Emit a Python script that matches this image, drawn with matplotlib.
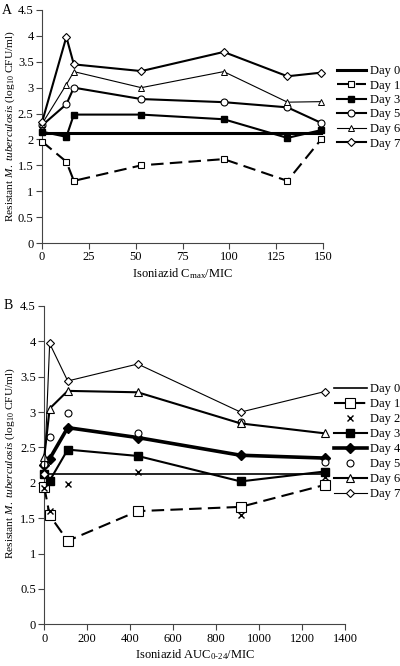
import matplotlib
matplotlib.use("Agg")
import matplotlib.pyplot as plt
from matplotlib.ticker import FuncFormatter

plt.rcParams['font.family'] = ['Liberation Serif', 'DejaVu Serif']
plt.rcParams['mathtext.fontset'] = 'custom'
plt.rcParams['mathtext.rm'] = 'Liberation Serif'
plt.rcParams['mathtext.it'] = 'Liberation Serif:italic'

# ---------------- Panel A data ----------------
a_x = [0, 13, 17, 53, 97, 131, 149]
a_day0 = [2.12, 2.12, 2.12, 2.12, 2.12, 2.12, 2.12]
a_day1 = [1.96, 1.57, 1.20, 1.50, 1.62, 1.20, 2.00]
a_day3 = [2.15, 2.05, 2.48, 2.48, 2.39, 2.03, 2.18]
a_day5 = [2.27, 2.68, 3.00, 2.78, 2.72, 2.62, 2.32]
a_day6 = [2.30, 3.06, 3.31, 3.00, 3.31, 2.72, 2.73]
a_day7 = [2.33, 3.98, 3.45, 3.32, 3.69, 3.22, 3.29]

# ---------------- Panel B data ----------------
b_x = [0, 25, 109, 435, 914, 1305]
b_day0 = [2.12, 2.12, 2.12, 2.12, 2.12, 2.12]
b_day1 = [1.94, 1.54, 1.18, 1.60, 1.66, 1.97]
b_day2 = [1.93, 1.60, 1.99, 2.15, 1.54, 2.08]
b_day3 = [2.13, 2.03, 2.47, 2.38, 2.02, 2.16]
b_day4 = [2.25, 2.34, 2.78, 2.64, 2.39, 2.35]
b_day5 = [2.27, 2.65, 2.99, 2.70, 2.86, 2.30]
b_day6 = [2.37, 3.05, 3.30, 3.28, 2.84, 2.70]
b_day7 = [2.13, 3.97, 3.44, 3.68, 3.00, 3.29]

ylabel = r'Resistant $\it{M.\ tuberculosis}$ (log$_{10}$ CFU/ml)'

W, H = 400, 666
FS = 9
YFS = 8.2
fig = plt.figure(figsize=(4, 6.66), dpi=100)

def px_axes(l, r, t, b):
    return fig.add_axes([l / W, 1 - b / H, (r - l) / W, (b - t) / H])

def style(ax):
    for s in ['top', 'right']:
        ax.spines[s].set_visible(False)
    for s in ['left', 'bottom']:
        ax.spines[s].set_color('#444444')
        ax.spines[s].set_linewidth(0.8)
    ax.tick_params(direction='out', length=4, width=0.8, color='#444444',
                   labelsize=FS, pad=2)
    ax.yaxis.set_major_formatter(FuncFormatter(lambda v, p: '%g' % v))

k = 'k'
ms = dict(clip_on=False, zorder=3)

# ---------------- Panel A ----------------
axA = px_axes(42, 323, 10, 243)
axA.plot(a_x, a_day0, '-', color=k, lw=2.2, label='Day 0', clip_on=False)
axA.plot(a_x, a_day1, '--', color=k, lw=1.5, marker='s', ms=5, mfc='white', mec=k,
         mew=0.8, dashes=(6, 3), label='Day 1', **ms)
axA.plot(a_x, a_day3, '-', color=k, lw=1.5, marker='s', ms=4.5, mfc=k, mec=k, label='Day 3', **ms)
axA.plot(a_x, a_day5, '-', color=k, lw=1.5, marker='o', ms=5, mfc='white', mec=k,
         mew=0.8, label='Day 5', **ms)
axA.plot(a_x, a_day6, '-', color=k, lw=0.8, marker='^', ms=4, mfc='white', mec=k,
         mew=0.7, label='Day 6', **ms)
axA.plot(a_x, a_day7, '-', color=k, lw=1.5, marker='D', ms=4.2, mfc='white', mec=k,
         mew=0.8, label='Day 7', **ms)
axA.set_xlim(0, 150)
axA.set_ylim(0, 4.5)
axA.set_xticks([0, 25, 50, 75, 100, 125, 150])
axA.set_yticks([0, 0.5, 1, 1.5, 2, 2.5, 3, 3.5, 4, 4.5])
style(axA)
axA.set_xlabel(r'Isoniazid C$_{\mathrm{max}}$/MIC', fontsize=FS, labelpad=2)
axA.set_ylabel(ylabel, fontsize=YFS)
axA.yaxis.set_label_coords(17 / W, 1 - 126 / H, transform=fig.transFigure)
axA.legend(loc='upper left', bbox_to_anchor=(337 / W, 1 - 65 / H),
           bbox_transform=fig.transFigure, frameon=False, fontsize=FS,
           handlelength=2.3, handletextpad=0.35, labelspacing=0.2,
           borderpad=0, borderaxespad=0)
fig.text(2 / W, 1 - 10 / H, 'A', fontsize=10, va='center', ha='left')

# ---------------- Panel B ----------------
axB = px_axes(44.3, 345, 306, 624.3)
axB.plot(b_x, b_day0, '-', color=k, lw=1.2, label='Day 0', clip_on=False)
axB.plot(b_x, b_day1, '--', color=k, lw=1.5, marker='s', ms=6.5, mfc='white', mec=k,
         mew=0.8, dashes=(6, 3), label='Day 1', **ms)
axB.plot(b_x, b_day2, linestyle='none', marker='x', ms=4, mec=k, mew=1.0,
         label='Day 2', **ms)
axB.plot(b_x, b_day3, '-', color=k, lw=1.5, marker='s', ms=6, mfc=k, mec=k, label='Day 3', **ms)
axB.plot(b_x, b_day4, '-', color=k, lw=2.6, marker='D', ms=5, mfc=k, mec=k, label='Day 4', **ms)
axB.plot(b_x, b_day5, linestyle='none', marker='o', ms=5, mfc='white', mec=k, mew=0.8,
         label='Day 5', **ms)
axB.plot(b_x, b_day6, '-', color=k, lw=1.5, marker='^', ms=6, mfc='white', mec=k,
         mew=0.8, label='Day 6', **ms)
axB.plot(b_x, b_day7, '-', color=k, lw=0.8, marker='D', ms=4.5, mfc='white', mec=k,
         mew=0.8, label='Day 7', **ms)
axB.set_xlim(0, 1400)
axB.set_ylim(0, 4.5)
axB.set_xticks([0, 200, 400, 600, 800, 1000, 1200, 1400])
axB.set_yticks([0, 0.5, 1, 1.5, 2, 2.5, 3, 3.5, 4, 4.5])
style(axB)
axB.set_xlabel(r'Isoniazid AUC$_{\mathrm{0\text{-}24}}$/MIC', fontsize=FS, labelpad=2)
axB.set_ylabel(ylabel, fontsize=YFS)
axB.yaxis.set_label_coords(17 / W, 1 - 463 / H, transform=fig.transFigure)
axB.legend(loc='upper left', bbox_to_anchor=(334 / W, 1 - 383 / H),
           bbox_transform=fig.transFigure, frameon=False, fontsize=FS,
           handlelength=2.6, handletextpad=0.3, labelspacing=0.24,
           borderpad=0, borderaxespad=0)
fig.text(4 / W, 1 - 305 / H, 'B', fontsize=10, va='center', ha='left')

fig.savefig('out.png', dpi=100)
